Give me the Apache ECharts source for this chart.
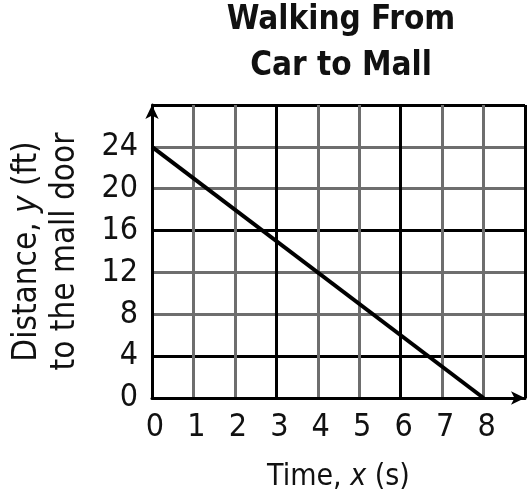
<!DOCTYPE html>
<html><head><meta charset="utf-8">
<script src="https://cdn.jsdelivr.net/npm/echarts@6/dist/echarts.min.js"></script>
<style>html,body{margin:0;padding:0;background:#fff}#c{width:529px;height:497px}</style>
</head><body><div id="c"></div>
<script>
var timeValues = [0, 8];
var distanceValues = [24, 0];
var xTickLabels = ['0','1','2','3','4','5','6','7','8',''];
var yTickLabels = ['0','4','8','12','16','20','24',''];
var FONT = '"Liberation Sans Narrow", "DejaVu Sans Condensed", "Arial Narrow", sans-serif';

var chart = echarts.init(document.getElementById('c'));
chart.setOption({
  animation: false,
  backgroundColor: '#fff',
  title: {
    text: 'Walking From\nCar to Mall',
    left: 341, top: -3, textAlign: 'center', padding: 0,
    textStyle: { fontFamily: FONT, fontWeight: 'bold', fontSize: 33, lineHeight: 46, color: '#111' }
  },
  grid: { left: 150, right: 4, top: 105, bottom: 98 },
  xAxis: {
    type: 'value', min: 0, max: 9, interval: 1,
    name: '{a|Time, }{i|x}{a| (s)}', nameLocation: 'middle', nameGap: 64,
    nameTextStyle: { rich: {
      a: { fontFamily: FONT, fontSize: 30, color: '#111' },
      i: { fontFamily: FONT, fontSize: 30, fontStyle: 'italic', color: '#111' } } },
    axisLine: { show: true, onZero: false, symbol: ['none','arrow'], symbolSize: [10, 14], lineStyle: { color: '#000', width: 3 } },
    axisTick: { show: false },
    axisLabel: { margin: 14, padding: [0, 0, 0, 6], fontFamily: FONT, fontSize: 32, color: '#111',
      formatter: function (v) { return xTickLabels[Math.round(v)]; } },
    splitLine: { show: true, lineStyle: { color: ['#000', '#6e6e6e', '#6e6e6e'], width: 3 } }
  },
  yAxis: {
    type: 'value', min: 0, max: 28, interval: 4,
    name: '{a|Distance, }{i|y}{a| (ft)}\n{a|to the mall door}', nameLocation: 'middle', nameGap: 68, nameRotate: 90,
    nameTextStyle: { lineHeight: 38, rich: {
      a: { fontFamily: FONT, fontSize: 33, color: '#111', lineHeight: 38 },
      i: { fontFamily: FONT, fontSize: 33, fontStyle: 'italic', color: '#111', lineHeight: 38 } } },
    axisLine: { show: true, onZero: false, symbol: ['none','arrow'], symbolSize: [10, 14], lineStyle: { color: '#000', width: 3 } },
    axisTick: { show: false },
    axisLabel: { margin: 14, padding: [8, 0, 0, 0], fontFamily: FONT, fontSize: 32, color: '#111',
      formatter: function (v) { return yTickLabels[Math.round(v / 4)]; } },
    splitLine: { show: true, lineStyle: { color: ['#6e6e6e', '#000', '#6e6e6e'], width: 3 } }
  },
  series: [{
    type: 'line',
    data: timeValues.map(function (t, i) { return [t, distanceValues[i]]; }),
    symbol: 'none',
    lineStyle: { color: '#000', width: 4 },
    z: 5
  }]
});
</script></body></html>
